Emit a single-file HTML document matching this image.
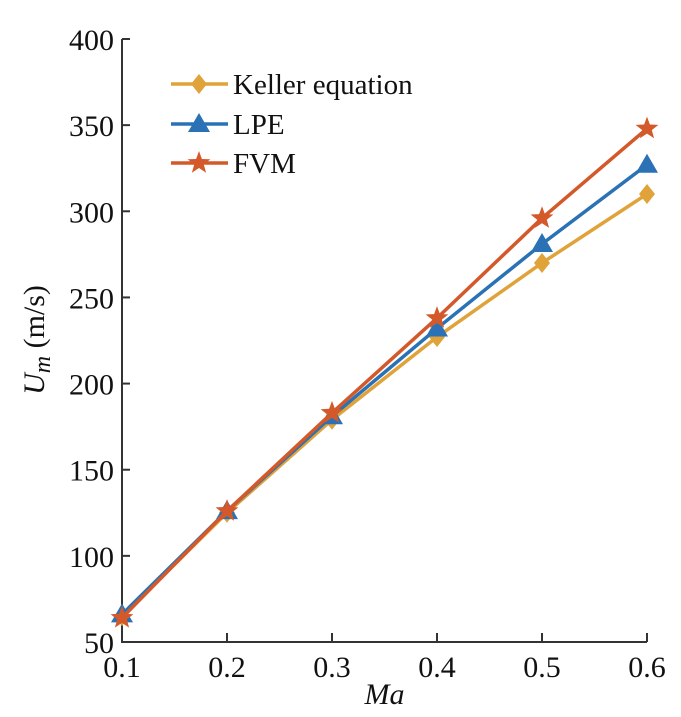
<!DOCTYPE html>
<html><head><meta charset="utf-8"><style>body{margin:0;background:#fff}svg{display:block}</style></head>
<body>
<svg id="chart" width="681" height="717" font-family="'Liberation Serif', serif">
</svg>
<script>
const categories=[0.1,0.2,0.3,0.4,0.5,0.6];
const kellerValues=[65,125,179,227,270,310];
const lpeValues=[66,126,181,232,281,327];
const fvmValues=[64,126,183,238,296,348];
const yTicks=[50,100,150,200,250,300,350,400];
const xTickLabels=["0.1","0.2","0.3","0.4","0.5","0.6"];
const svg=document.getElementById('chart');
const NS='http://www.w3.org/2000/svg';
const X0=122,X1=647,Y0=642,Y1=39;
const xs=v=>X0+(v-0.1)/0.5*(X1-X0);
const ys=v=>Y0-(v-50)/350*(Y0-Y1);
function mk(tag,attrs,parent){const e=document.createElementNS(NS,tag);for(const k in attrs)e.setAttribute(k,attrs[k]);(parent||svg).appendChild(e);return e;}
const axes=mk('g',{});


mk('path',{d:`M${X0} ${Y1}V${Y0}H${X1}`,stroke:'#333',fill:'none','stroke-width':2},axes);
yTicks.forEach(t=>{
  const y=ys(t);
  mk('line',{x1:X0,x2:X0+8,y1:y,y2:y,stroke:'#333','stroke-width':2},axes);
  const tx=mk('text',{x:X0-8,y:y+11,'text-anchor':'end','font-size':30,fill:'#111'},axes);
  tx.textContent=t;
  
  
});
categories.forEach((c,i)=>{
  const x=xs(c);
  mk('line',{x1:x,x2:x,y1:Y0,y2:Y0-9,stroke:'#333','stroke-width':2},axes);
  const tx=mk('text',{x:x,y:Y0+35,'text-anchor':'middle','font-size':30,fill:'#111'},axes);
  tx.textContent=xTickLabels[i];
  
  
});
const xt=mk('text',{x:(X0+X1)/2,y:704,'text-anchor':'middle','font-size':30,'font-style':'italic',fill:'#111'});
xt.textContent='Ma';


const yt=mk('text',{transform:'translate(44,340) rotate(-90)','text-anchor':'middle','font-size':30,fill:'#111'});
yt.innerHTML='<tspan font-style="italic">U</tspan><tspan font-style="italic" font-size="24" dy="6">m</tspan><tspan dy="-6"> (m/s)</tspan>';


function marker(type,x,y,color,g){
  if(type==='diamond')return mk('path',{d:`M${x} ${y-10}L${x+8} ${y}L${x} ${y+10}L${x-8} ${y}Z`,fill:color},g);
  if(type==='triangle')return mk('path',{d:`M${x} ${y-11}L${x+11} ${y+8}L${x-11} ${y+8}Z`,fill:color},g);
  let p='';for(let k=0;k<10;k++){const r=k%2?5:12;const a=-Math.PI/2+k*Math.PI/5;p+=(k?'L':'M')+(x+r*Math.cos(a)).toFixed(1)+' '+(y+r*Math.sin(a)).toFixed(1);}
  return mk('path',{d:p+'Z',fill:color},g);
}
const series=[['keller',kellerValues,'#E0A33A','diamond','Keller equation'],['lpe',lpeValues,'#2A72B5','triangle','LPE'],['fvm',fvmValues,'#D4592A','star','FVM']];
series.forEach(([n,vals,col,m,label],si)=>{
  const g=mk('g',{});
  
  
  mk('polyline',{points:vals.map((v,i)=>xs(categories[i])+','+ys(v)).join(' '),fill:'none',stroke:col,'stroke-width':3.5},g);
  vals.forEach((v,i)=>{const mm=marker(m,xs(categories[i]),ys(v),col,g);
    
    });
  const ly=[84,124,163][si];
  const lg=mk('g',{});
  
  
  mk('line',{x1:171,x2:228,y1:ly,y2:ly,stroke:col,'stroke-width':3.5},lg);
  marker(m,199,ly,col,lg);
  const t=mk('text',{x:233,y:ly+10,'font-size':29,fill:'#111'},lg);
  t.textContent=label;
});
</script>
</body></html>
